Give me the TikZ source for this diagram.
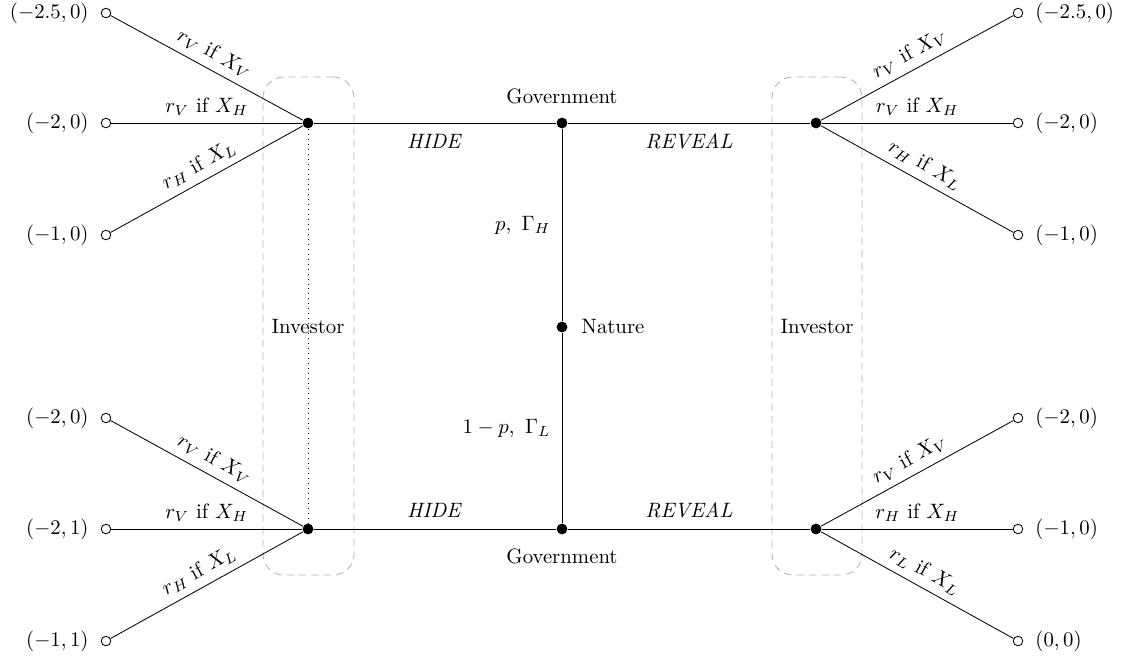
\documentclass[tikz,border=0pt]{standalone}
\usetikzlibrary{fit}
\begin{document}
\begin{tikzpicture}[x=0.481pt,y=-0.481pt,
  dec/.style={circle, fill=black, inner sep=0pt, minimum size=5.2pt},
  term/.style={circle, draw, fill=white, inner sep=0pt, minimum size=4.6pt},
  infoset/.style={draw=gray!60, dash pattern=on 3.5pt off 2.5pt, rounded corners=10pt, inner sep=0pt},
  elab/.style={midway, above, sloped},
  hlab/.style={midway, above},
  pay/.style={inner sep=0pt}]
\useasboundingbox (0,0) rectangle (1122,658);

% information sets
\node[infoset, fit={(263,77) (354,575)}] (isL) {};
\node[infoset, fit={(772,77) (862,575)}] (isR) {};
\node (invL) at (308,327) {Investor};
\node (invR) at (817,327) {Investor};

% decision nodes
\node[dec, label={[label distance=3pt]right:Nature}] (nat) at (562,327) {};
\node[dec, label={[label distance=3pt]above:Government}] (gT) at (562,123) {};
\node[dec, label={[label distance=3pt]below:Government}] (gB) at (562,529) {};
\node[dec] (iTL) at (308,123) {};
\node[dec] (iBL) at (308,529) {};
\node[dec] (iTR) at (816,123) {};
\node[dec] (iBR) at (816,529) {};

% terminals left
\node[term] (t1) at (106,13) {};
\node[term] (t2) at (106,123) {};
\node[term] (t3) at (106,235) {};
\node[term] (t4) at (106,418) {};
\node[term] (t5) at (106,529) {};
\node[term] (t6) at (106,641) {};
% terminals right
\node[term] (u1) at (1018,13) {};
\node[term] (u2) at (1018,123) {};
\node[term] (u3) at (1018,235) {};
\node[term] (u4) at (1018,418) {};
\node[term] (u5) at (1018,529) {};
\node[term] (u6) at (1018,641) {};

% payoffs
\node[pay, anchor=east] (p1) at ([xshift=-8.2pt]t1.center) {$(-2.5,0)$};
\node[pay, anchor=east] (p2) at ([xshift=-8.2pt]t2.center) {$(-2,0)$};
\node[pay, anchor=east] (p3) at ([xshift=-8.2pt]t3.center) {$(-1,0)$};
\node[pay, anchor=east] (p4) at ([xshift=-8.2pt]t4.center) {$(-2,0)$};
\node[pay, anchor=east] (p5) at ([xshift=-8.2pt]t5.center) {$(-2,1)$};
\node[pay, anchor=east] (p6) at ([xshift=-8.2pt]t6.center) {$(-1,1)$};
\node[pay, anchor=west] (q1) at ([xshift=8.2pt]u1.center) {$(-2.5,0)$};
\node[pay, anchor=west] (q2) at ([xshift=8.2pt]u2.center) {$(-2,0)$};
\node[pay, anchor=west] (q3) at ([xshift=8.2pt]u3.center) {$(-1,0)$};
\node[pay, anchor=west] (q4) at ([xshift=8.2pt]u4.center) {$(-2,0)$};
\node[pay, anchor=west] (q5) at ([xshift=8.2pt]u5.center) {$(-1,0)$};
\node[pay, anchor=west] (q6) at ([xshift=8.2pt]u6.center) {$(0,0)$};

% dotted info link
\draw[dotted] (iTL) -- (iBL);

% nature and government moves
\draw (gT) -- node[midway, left=2pt] {$p,\ \Gamma_H$} (nat);
\draw (nat) -- node[midway, left=2pt] {$1-p,\ \Gamma_L$} (gB);
\draw (iTL) -- node[midway, below=2pt] {$\mathit{HIDE}$} (gT);
\draw (gT) -- node[midway, below=2pt] {$\mathit{REVEAL}$} (iTR);
\draw (iBL) -- node[midway, above=2pt] {$\mathit{HIDE}$} (gB);
\draw (gB) -- node[midway, above=2pt] {$\mathit{REVEAL}$} (iBR);

% investor moves left
\draw (t1) -- node[elab] {$r_V$ if $X_V$} (iTL);
\draw (t2) -- node[hlab] {$r_V$ if $X_H$} (iTL);
\draw (t3) -- node[elab] {$r_H$ if $X_L$} (iTL);
\draw (t4) -- node[elab] {$r_V$ if $X_V$} (iBL);
\draw (t5) -- node[hlab] {$r_V$ if $X_H$} (iBL);
\draw (t6) -- node[elab] {$r_H$ if $X_L$} (iBL);
% investor moves right
\draw (iTR) -- node[elab] {$r_V$ if $X_V$} (u1);
\draw (iTR) -- node[hlab] {$r_V$ if $X_H$} (u2);
\draw (iTR) -- node[elab] {$r_H$ if $X_L$} (u3);
\draw (iBR) -- node[elab] {$r_V$ if $X_V$} (u4);
\draw (iBR) -- node[hlab] {$r_H$ if $X_H$} (u5);
\draw (iBR) -- node[elab] {$r_L$ if $X_L$} (u6);
\end{tikzpicture}
\end{document}
